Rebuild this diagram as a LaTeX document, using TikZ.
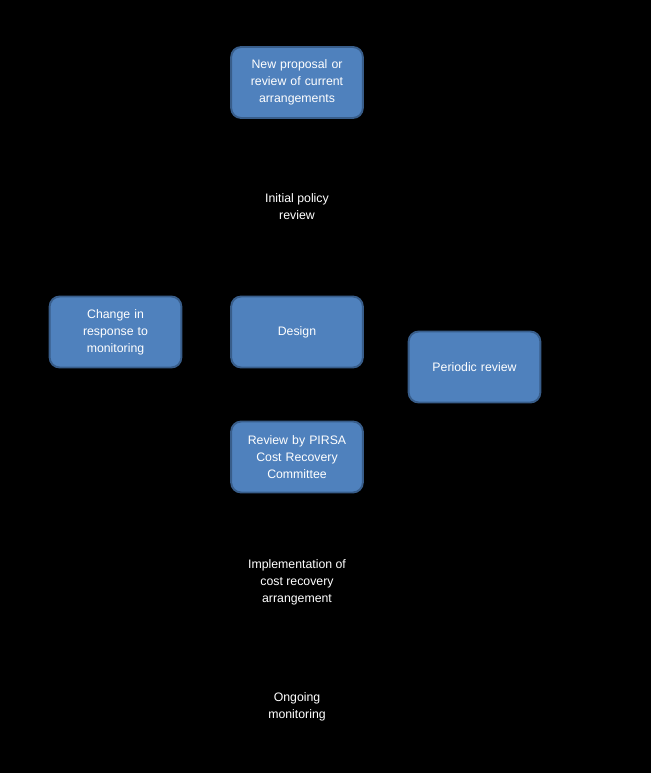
\documentclass[tikz,border=0pt]{standalone}
\usepackage{fontspec}
\setmainfont{Liberation Sans}
\usepackage{xcolor}
\usepackage{tikz}
\usetikzlibrary{positioning}

\definecolor{boxfill}{HTML}{4F81BD}
\definecolor{boxline}{HTML}{385D8A}

\tikzset{
    stage/.style={draw=boxline, line width=1.1pt, fill=boxfill, rounded corners=0.2cm,
        minimum width=2.6cm, minimum height=1.42cm, text width=2.4cm, align=center,
        text=white, font=\fontsize{7}{9.7}\selectfont},
    plain/.style={text=white, align=center, font=\fontsize{7}{9.7}\selectfont}
}

\begin{document}
\begin{tikzpicture}[>=latex, x=0.02cm, y=-0.02cm]
    % Nền đen
    \fill[black] (0,0) rectangle (651,773);
    \useasboundingbox (0,0) rectangle (651,773);

    % Các bước chính
    \node[stage] (proposal) at (297,82.5) {New proposal or\\review of current\\arrangements};
    \node[plain] (initial) at (297,207) {Initial policy\\review};
    \node[stage] (change) at (115.5,332) {Change in\\response to\\monitoring};
    \node[stage] (design) at (297,332) {Design};
    \node[stage] (periodic) at (474.5,367) {Periodic review};
    \node[stage] (pirsa) at (297,457) {Review by PIRSA\\Cost Recovery\\Committee};
    \node[plain] (implement) at (297,582) {Implementation of\\cost recovery\\arrangement};
    \node[plain] (ongoing) at (297,706.5) {Ongoing\\monitoring};
\end{tikzpicture}
\end{document}
